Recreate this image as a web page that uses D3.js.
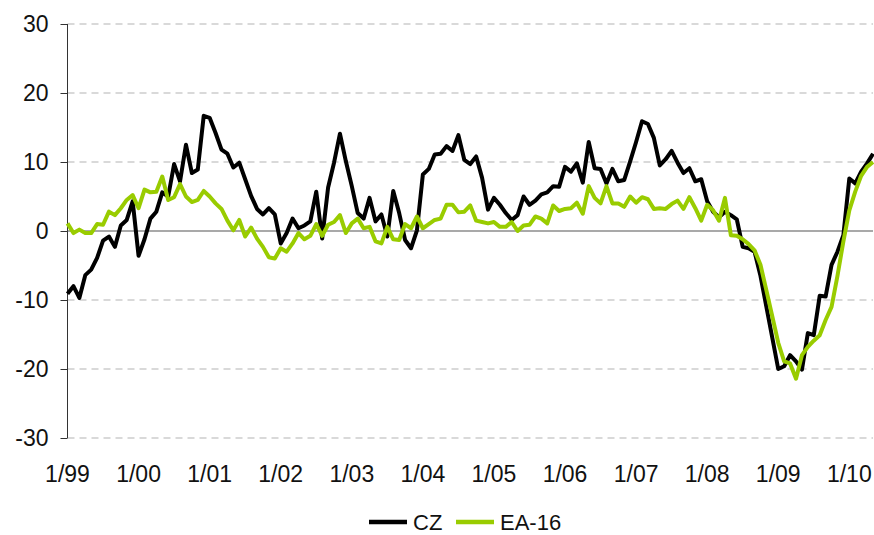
<!DOCTYPE html>
<html>
<head>
<meta charset="utf-8">
<script src="https://cdn.jsdelivr.net/npm/d3@7"></script>
<style>
  body { margin: 0; background: #fff; }
  svg { display: block; font-family: "Liberation Sans", Arial, sans-serif; }
</style>
</head>
<body>
<script>
// monthly values, 1/99 .. 5/10
const cz = [
  -9.1, -8.0, -9.7, -6.4, -5.6, -3.9, -1.4, -0.8, -2.3, 0.8, 1.6, 4.3,
  -3.6, -1.2, 1.8, 2.8, 5.6, 5.0, 9.7, 7.2, 12.5, 8.4, 8.9, 16.7,
  16.4, 14.2, 11.8, 11.2, 9.2, 9.9, 7.5, 5.1, 3.2, 2.4, 3.3, 2.4,
  -1.8, -0.3, 1.8, 0.4, 0.8, 1.4, 5.7, -1.1, 6.3, 9.9, 14.1, 10.1,
  6.5, 2.6, 1.8, 4.8, 1.4, 2.4, -0.8, 5.8, 2.6, -1.3, -2.5, 0.1,
  8.2, 9.0, 11.1, 11.2, 12.3, 11.6, 13.9, 10.3, 9.7, 10.8, 7.7, 3.1,
  4.8, 3.8, 2.6, 1.6, 2.3, 5.0, 3.8, 4.4, 5.3, 5.6, 6.5, 6.4,
  9.3, 8.6, 9.8, 7.0, 12.9, 9.1, 9.0, 6.9, 9.0, 7.2, 7.4, 10.1,
  12.9, 15.9, 15.5, 13.5, 9.5, 10.4, 11.6, 9.9, 8.4, 9.1, 7.2, 7.5,
  4.3, 2.8, 2.0, 2.8, 2.3, 1.7, -2.3, -2.5, -3.0, -6.5, -11.0, -15.5,
  -20.0, -19.6, -18.0, -18.9, -20.1, -14.8, -15.1, -9.4, -9.5, -4.9, -3.0, -0.6,
  7.6, 6.9, 8.6, 9.8, 11.2
];
const ea16 = [
  1.1, -0.3, 0.2, -0.3, -0.3, 1.0, 0.9, 2.8, 2.3, 3.3, 4.5, 5.2,
  3.3, 6.0, 5.6, 5.7, 7.9, 4.5, 4.9, 6.8, 5.0, 4.2, 4.5, 5.8,
  5.0, 4.0, 3.2, 1.5, 0.1, 1.6, -0.8, 0.5, -1.1, -2.3, -3.8, -4.0,
  -2.5, -3.0, -1.8, -0.3, -1.2, -0.7, 1.0, -0.7, 0.9, 1.3, 2.3, -0.3,
  1.1, 1.8, 0.4, 0.6, -1.5, -1.8, 0.6, -1.2, -1.3, 1.0, 0.4, 2.1,
  0.4, 1.0, 1.6, 1.8, 3.8, 3.8, 2.7, 2.8, 3.7, 1.5, 1.3, 1.1,
  1.3, 0.6, 0.6, 1.3, 0.0, 0.8, 0.9, 2.1, 1.8, 1.1, 3.7, 2.9,
  3.2, 3.3, 4.1, 2.5, 6.5, 4.8, 4.0, 6.5, 4.0, 4.0, 3.5, 5.0,
  4.1, 4.9, 4.6, 3.2, 3.3, 3.2, 3.9, 4.4, 3.2, 4.9, 3.3, 1.5,
  3.8, 3.0, 1.5, 4.8, -0.6, -0.7, -1.2, -1.9, -2.8, -4.9, -8.6, -12.4,
  -16.2, -18.9, -19.2, -21.4, -18.0, -16.8, -15.9, -15.1, -12.9, -11.0, -6.5, -1.5,
  3.0, 5.7, 8.0, 9.3, 10.0
];
const xLabels = ["1/99", "1/00", "1/01", "1/02", "1/03", "1/04", "1/05", "1/06", "1/07", "1/08", "1/09", "1/10"];
const yTicks = [-30, -20, -10, 0, 10, 20, 30];

const width = 874, height = 535;
const plotLeft = 67.5, plotRight = 873, plotTop = 24, plotBottom = 438;

const svg = d3.select("body").append("svg")
  .attr("width", width)
  .attr("height", height);

const x = d3.scaleLinear().domain([0, cz.length - 1]).range([plotLeft, plotRight]);
const y = d3.scaleLinear().domain([-30, 30]).range([plotBottom, plotTop]);

// grid
svg.append("g").selectAll("line")
  .data(yTicks.filter(d => d !== 0))
  .join("line")
  .attr("x1", plotLeft).attr("x2", plotRight)
  .attr("y1", d => y(d)).attr("y2", d => y(d))
  .attr("stroke", "#b3b3b3")
  .attr("stroke-width", 1)
  .attr("stroke-dasharray", "7,5");

// y axis, plain hyphen for negatives like the original
const yAxis = svg.append("g")
  .attr("transform", `translate(${plotLeft},0)`)
  .call(d3.axisLeft(y).tickValues(yTicks).tickSize(7).tickPadding(12).tickFormat(d => String(d)));
yAxis.select(".domain").attr("stroke", "#333").attr("d", `M0,${plotTop}V${plotBottom}`);
yAxis.selectAll(".tick line").attr("stroke", "#333");
yAxis.selectAll("text")
  .attr("font-size", 23)
  .attr("fill", "#111")
  .attr("font-family", "Liberation Sans, Arial, sans-serif");

// zero line
svg.append("line")
  .attr("x1", plotLeft).attr("x2", plotRight)
  .attr("y1", y(0)).attr("y2", y(0))
  .attr("stroke", "#555")
  .attr("stroke-width", 1.2);

// x labels
svg.append("g").selectAll("text")
  .data(xLabels)
  .join("text")
  .attr("x", (d, i) => x(i * 12))
  .attr("y", 482)
  .attr("text-anchor", "middle")
  .attr("font-size", 23)
  .attr("fill", "#111")
  .text(d => d);

// series
const line = d3.line().x((d, i) => x(i)).y(d => y(d));
const series = [
  { name: "CZ", values: cz, color: "#000000" },
  { name: "EA-16", values: ea16, color: "#99cc00" }
];

svg.append("g").selectAll("path")
  .data(series)
  .join("path")
  .attr("fill", "none")
  .attr("stroke", d => d.color)
  .attr("stroke-width", 4)
  .attr("stroke-linejoin", "round")
  .attr("d", d => line(d.values));

// legend
const legend = svg.append("g").attr("transform", "translate(369,522)");
const items = legend.selectAll("g")
  .data(series)
  .join("g")
  .attr("transform", (d, i) => `translate(${i * 87},0)`);
items.append("line")
  .attr("x1", 0).attr("x2", 38)
  .attr("stroke", d => d.color)
  .attr("stroke-width", 4.5);
items.append("text")
  .attr("x", 44)
  .attr("y", 8)
  .attr("font-size", 22)
  .attr("fill", "#111")
  .text(d => d.name);
</script>
</body>
</html>
